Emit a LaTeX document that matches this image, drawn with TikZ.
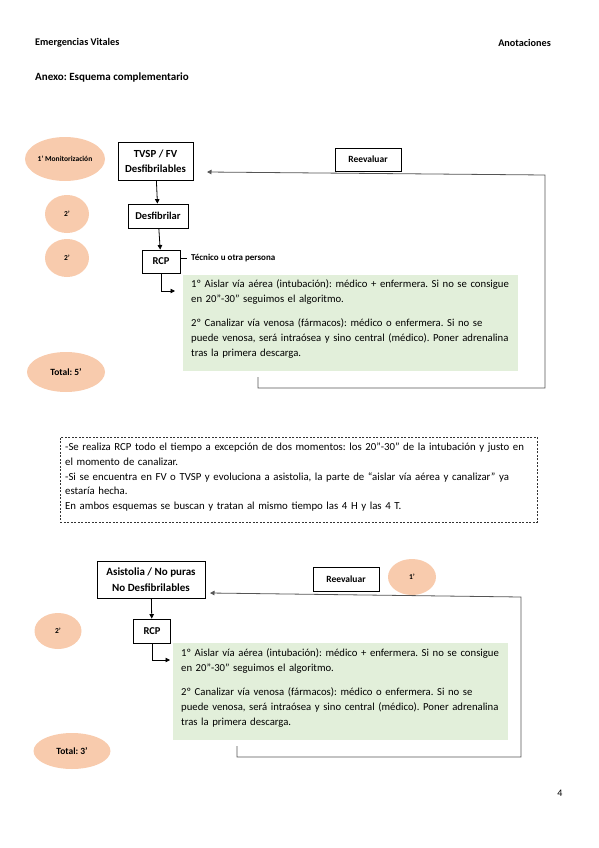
\documentclass[tikz,border=0pt]{standalone}
\usepackage{fontspec}
\setmainfont{Carlito}
\usetikzlibrary{arrows.meta,shapes.geometric}
\definecolor{peach}{HTML}{F8CBAD}
\definecolor{lgreen}{HTML}{E2EFDA}
\definecolor{lgray}{HTML}{555555}
\frenchspacing
\begin{document}
\begin{tikzpicture}[x=1pt,y=-1pt,
  box/.style={draw=black,line width=0.8pt,fill=white,align=center,font=\fontsize{10.5}{14}\selectfont\bfseries,inner sep=0pt},
  oval/.style={ellipse,fill=peach,inner sep=0pt,font=\fontsize{7.5}{8}\selectfont\bfseries},
  bigoval/.style={oval,font=\fontsize{9.5}{10}\selectfont\bfseries},
  arr/.style={-{Triangle[length=4.5pt,width=4.5pt]},line width=0.8pt},
  loopline/.style={line width=0.8pt,draw=lgray},
  gbox/.style={fill=lgreen,inner sep=0pt},
  gtext/.style={anchor=north west,align=left,inner sep=0pt,font=\fontsize{10.7}{15}\selectfont\frenchspacing,text width=330pt},
  plain/.style={inner sep=0pt,font=\fontsize{10.2}{11}\selectfont\bfseries}
]
\useasboundingbox (0,0) rectangle (599,848);

% header
\node[plain,anchor=west] (h1) at (35,43) {Emergencias Vitales};
\node[plain,anchor=east] (h2) at (551,43) {Anotaciones};
\node[plain,anchor=west,font=\fontsize{11}{12}\selectfont\bfseries] (h3) at (35,78) {Anexo: Esquema complementario};
\node[plain,font=\fontsize{10}{10}\selectfont] (pg) at (560,793) {4};

% ===== section 1 =====
\node[oval,minimum width=80pt,minimum height=44pt] (e1) at (65,159) {1’ Monitorización};
\node[oval,minimum width=44pt,minimum height=38pt] (e2) at (67,214) {2’};
\node[oval,minimum width=44pt,minimum height=38pt] (e3) at (67,258) {2’};
\node[bigoval,minimum width=78pt,minimum height=40pt] (e4) at (66,372) {Total: 5’};

\node[box,minimum width=75pt,minimum height=38pt,font=\fontsize{10.8}{15}\selectfont\bfseries] (tv) at (155.5,161) {TVSP / FV\\Desfibrilables};
\node[box,minimum width=60pt,minimum height=24pt] (df) at (158,216) {Desfibrilar};
\node[box,minimum width=38pt,minimum height=23pt] (r1) at (161,261.5) {RCP};
\node[box,minimum width=66pt,minimum height=23pt,font=\fontsize{9.5}{10}\selectfont\bfseries] (rv1) at (368,159.5) {Reevaluar};
\node[inner sep=0pt,anchor=west,font=\fontsize{9}{10}\selectfont\bfseries] (tec) at (191,258) {Técnico u otra persona};

\node[gbox,minimum width=335pt,minimum height=96pt,anchor=north west] (g1) at (183,275) {};
\node[gtext] (g1t) at (191,279) {1º Aislar vía aérea (intubación): médico + enfermera. Si no se consigue\\
en 20”-30” seguimos el algoritmo.\\[9pt]
2º Canalizar vía venosa (fármacos): médico o enfermera. Si no se\\
puede venosa, será intraósea y sino central (médico). Poner adrenalina\\
tras la primera descarga.};

\coordinate (a1) at (175,291);
\coordinate (l1a) at (258,377);
\coordinate (l1b) at (258,388);
\coordinate (l1c) at (545,388);
\coordinate (l1d) at (545,175);
\coordinate (l1e) at (207,172);

\draw[arr] (tv) -- (df);
\draw[arr] (df) -- (r1);
\draw[line width=0.6pt] (r1.east |- tec.west) -- ([xshift=-4pt]tec.west);
\draw[arr] (r1.south) |- (a1);
\draw[loopline,-{Triangle[length=4.5pt,width=4.5pt]}] (l1a) -- (l1b) -- (l1c) -- (l1d) -- (l1e);

% ===== dashed note =====
\node[draw=black!80,line width=0.7pt,dash pattern=on 2pt off 1.5pt,minimum width=477pt,minimum height=85pt,anchor=north west,inner sep=0pt] (nb) at (60,437) {};
\node[anchor=north west,align=left,inner sep=0pt,font=\fontsize{10.8}{14.7}\selectfont,text width=480pt] (nbt) at (65,443) {-Se realiza RCP todo el tiempo a excepción de dos momentos: los 20”-30” de la intubación y justo en\\
el momento de canalizar.\\
-Si se encuentra en FV o TVSP y evoluciona a asistolia, la parte de “aislar vía aérea y canalizar” ya\\
estaría hecha.\\
En ambos esquemas se buscan y tratan al mismo tiempo las 4 H y las 4 T.};

% ===== section 2 =====
\node[box,minimum width=108pt,minimum height=37pt,font=\fontsize{11}{15.5}\selectfont\bfseries] (as) at (151,579.5) {Asistolia / No puras\\No Desfibrilables};
\node[box,minimum width=37pt,minimum height=24pt] (r2) at (152,631) {RCP};
\node[box,minimum width=66pt,minimum height=24pt,font=\fontsize{9.5}{10}\selectfont\bfseries] (rv2) at (346,579) {Reevaluar};
\node[oval,minimum width=48pt,minimum height=36pt] (e5) at (412,577) {1’};
\node[oval,minimum width=47pt,minimum height=36pt] (e6) at (58,631) {2’};
\node[bigoval,minimum width=77pt,minimum height=36pt] (e7) at (72,751) {Total: 3’};

\node[gbox,minimum width=335pt,minimum height=97pt,anchor=north west] (g2) at (173,643) {};
\node[gtext] (g2t) at (181,648) {1º Aislar vía aérea (intubación): médico + enfermera. Si no se consigue\\
en 20”-30” seguimos el algoritmo.\\[9pt]
2º Canalizar vía venosa (fármacos): médico o enfermera. Si no se\\
puede venosa, será intraósea y sino central (médico). Poner adrenalina\\
tras la primera descarga.};

\coordinate (a2) at (170,660);
\coordinate (l2a) at (237,746);
\coordinate (l2b) at (237,757);
\coordinate (l2c) at (521,757);
\coordinate (l2d) at (521,597);
\coordinate (l2e) at (210,593);

\draw[arr] (as) -- (r2);
\draw[arr] (r2.south) |- (a2);
\draw[loopline,-{Triangle[length=4.5pt,width=4.5pt]}] (l2a) -- (l2b) -- (l2c) -- (l2d) -- (l2e);
\end{tikzpicture}
\end{document}
